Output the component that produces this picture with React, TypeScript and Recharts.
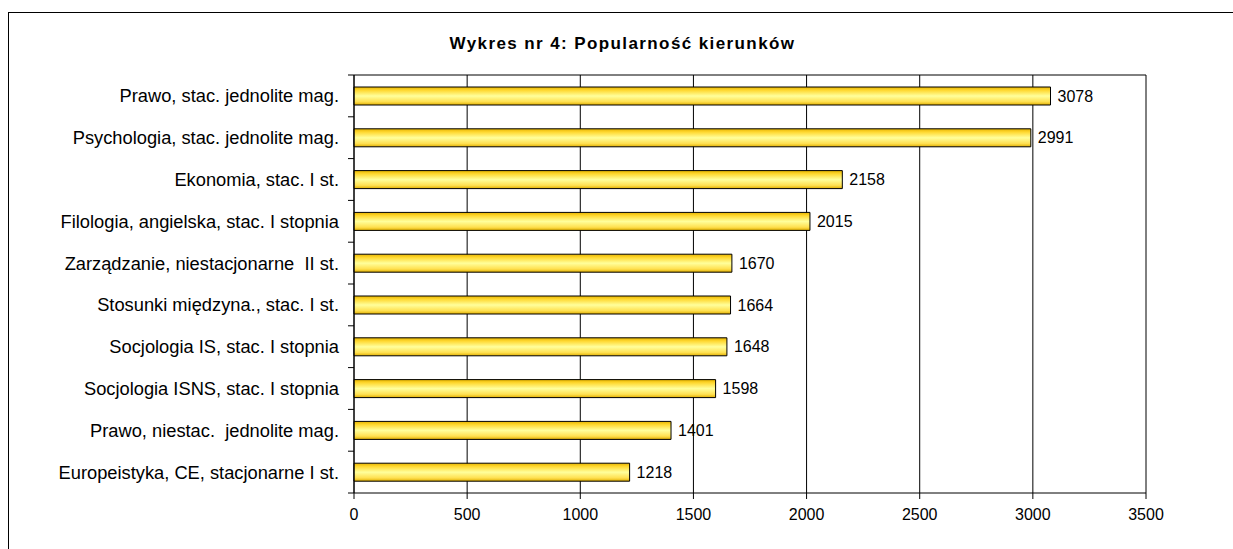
import React from 'react';
import {
  BarChart,
  Bar,
  XAxis,
  YAxis,
  CartesianGrid,
  LabelList,
} from 'recharts';

const categories = [
  'Prawo, stac. jednolite mag.',
  'Psychologia, stac. jednolite mag.',
  'Ekonomia, stac. I st.',
  'Filologia, angielska, stac. I stopnia',
  'Zarządzanie, niestacjonarne  II st.',
  'Stosunki międzyna., stac. I st.',
  'Socjologia IS, stac. I stopnia',
  'Socjologia ISNS, stac. I stopnia',
  'Prawo, niestac.  jednolite mag.',
  'Europeistyka, CE, stacjonarne I st.',
];
const values = [3078, 2991, 2158, 2015, 1670, 1664, 1648, 1598, 1401, 1218];
const xTicks = [0, 500, 1000, 1500, 2000, 2500, 3000, 3500];

const data = categories.map((name, i) => ({ name, value: values[i] }));

const FONT = '"Liberation Sans", Arial, sans-serif';
const W = 1233;
const H = 549;
const PLOT_TOP = 75;
const PLOT_BOTTOM = 493;
const PLOT_LEFT = 354;
const PLOT_RIGHT = 1146;
const Y_AXIS_W = 340;
const TICK_MARGIN = 9;
const BAND = (PLOT_BOTTOM - PLOT_TOP) / categories.length;

const CategoryTick = (props: any) => {
  const { x, y, payload, index } = props;
  const axisX = x + TICK_MARGIN + 6;
  return (
    <g>
      <line x1={axisX - 6} x2={axisX} y1={y - BAND / 2} y2={y - BAND / 2} stroke="#000" />
      {index === categories.length - 1 && (
        <line x1={axisX - 6} x2={axisX} y1={y + BAND / 2} y2={y + BAND / 2} stroke="#000" />
      )}
      <text
        x={x}
        y={y}
        dy="0.35em"
        textAnchor="end"
        fontSize={18.3}
        fontFamily={FONT}
        fill="#000"
        style={{ whiteSpace: 'pre' }}
      >
        {payload.value}
      </text>
    </g>
  );
};

export default function App() {
  return (
    <div style={{ position: 'relative', width: W, height: H, overflow: 'hidden', background: '#fff' }}>
      <style>{`body{margin:0}`}</style>
      <div
        style={{
          position: 'absolute',
          left: 8,
          top: 12,
          width: W + 20,
          height: H + 20,
          border: '1px solid #000',
        }}
      />
      <div
        style={{
          position: 'absolute',
          left: 0,
          width: W - 8,
          top: 34,
          textAlign: 'center',
          fontFamily: FONT,
          fontWeight: 'bold',
          fontSize: 17,
          letterSpacing: 1.4,
          paddingLeft: 20,
          boxSizing: 'border-box',
        }}
      >
        Wykres nr 4: Popularność kierunków
      </div>
      <div style={{ position: 'absolute', left: 0, top: 0 }}>
        <BarChart
          width={W}
          height={H}
          data={data}
          layout="vertical"
          margin={{
            top: PLOT_TOP,
            right: W - PLOT_RIGHT,
            bottom: H - PLOT_BOTTOM - 30,
            left: PLOT_LEFT - Y_AXIS_W,
          }}
        >
          <defs>
            <linearGradient id="barFill" x1="0" y1="0" x2="0" y2="1">
              <stop offset="0%" stopColor="#E6B400" />
              <stop offset="18%" stopColor="#FFD830" />
              <stop offset="50%" stopColor="#FFFF9C" />
              <stop offset="82%" stopColor="#FFE050" />
              <stop offset="100%" stopColor="#E0AE00" />
            </linearGradient>
          </defs>
          <CartesianGrid
            stroke="#000"
            horizontalCoordinatesGenerator={({ offset }: any) => [offset.top]}
          />
          <XAxis
            type="number"
            domain={[0, 3500]}
            ticks={xTicks}
            height={30}
            axisLine={{ stroke: '#000' }}
            tickLine={{ stroke: '#000' }}
            tickSize={6}
            tickMargin={10}
            tick={{ fontSize: 16, fontFamily: FONT, fill: '#000' }}
            interval={0}
          />
          <YAxis
            type="category"
            dataKey="name"
            width={Y_AXIS_W}
            axisLine={{ stroke: '#000' }}
            tickLine={false}
            tickSize={6}
            tickMargin={TICK_MARGIN}
            tick={<CategoryTick />}
            interval={0}
          />
          <Bar
            dataKey="value"
            fill="url(#barFill)"
            stroke="#000"
            strokeWidth={1}
            barSize={18}
            isAnimationActive={false}
          >
            <LabelList
              dataKey="value"
              position="right"
              offset={7}
              fill="#000"
              fontSize={16}
              fontFamily={FONT}
            />
          </Bar>
        </BarChart>
      </div>
    </div>
  );
}
